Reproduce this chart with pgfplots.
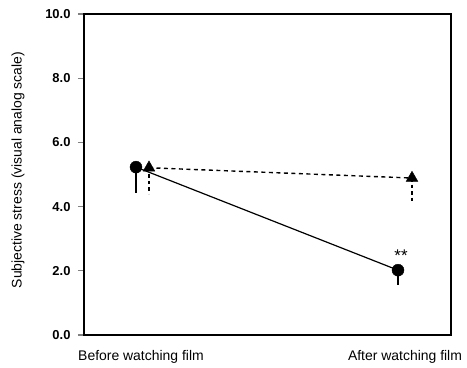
\documentclass[border=0pt]{standalone}
\usepackage{pgfplots}
\pgfplotsset{compat=1.18}
\usepackage{fontspec}
\setmainfont{Liberation Sans}
\begin{document}
\begin{tikzpicture}
\begin{axis}[
  name=ax,
  scale only axis, width=367bp, height=321bp,
  xmin=84, xmax=451, ymin=0, ymax=10,
  ytick={0,2,4,6,8,10},
  yticklabels={\textbf{0.0},\textbf{2.0},\textbf{4.0},\textbf{6.0},\textbf{8.0},\textbf{10.0}},
  yticklabel style={font=\fontsize{13}{15}\selectfont, xshift=-4bp},
  xtick={141,405},
  xticklabels={Before watching film, After watching film},
  xticklabel style={font=\fontsize{14}{16}\selectfont, yshift=-6bp},
  xtick style={draw=none},
  tick align=outside, ytick pos=left,
  major tick length=6bp,
  ytick style={line width=1.2bp},
  axis line style={line width=1.6bp},
  ylabel={Subjective stress (visual analog scale)},
  every axis y label/.style={at={(axis description cs:-0.18,0.514)}, rotate=90, anchor=center},
  ylabel style={font=\fontsize{14}{16}\selectfont},
  clip=false,
]
\addplot[black, line width=1.2bp] coordinates {(136,5.23) (398,2.02)};
\addplot[black, line width=1.4bp, dash pattern=on 4bp off 3.5bp] coordinates {(149,5.21) (412,4.89)};
\addplot[black, only marks, mark=*, mark size=6bp,
  error bars/.cd, y dir=minus, y explicit, error mark=none,
  error bar style={line width=1.3bp, solid}]
  coordinates {(136,5.23) -= (0,0.80) (398,2.02) -= (0,0.47)};
\addplot[black, only marks, mark=triangle*, mark size=6.8bp,
  error bars/.cd, y dir=minus, y explicit, error mark=none,
  error bar style={line width=1.5bp, dash pattern=on 3.5bp off 3bp}]
  coordinates {(149,5.21) -= (0,0.81) (412,4.89) -= (0,0.78)};
\node[font=\fontsize{17}{18}\selectfont] at (axis cs:401,2.48) {**};
\end{axis}
\path (ax.south west) ++(-84bp,-33bp) rectangle ([shift={(16bp,14bp)}]ax.north east);
\end{tikzpicture}
\end{document}
